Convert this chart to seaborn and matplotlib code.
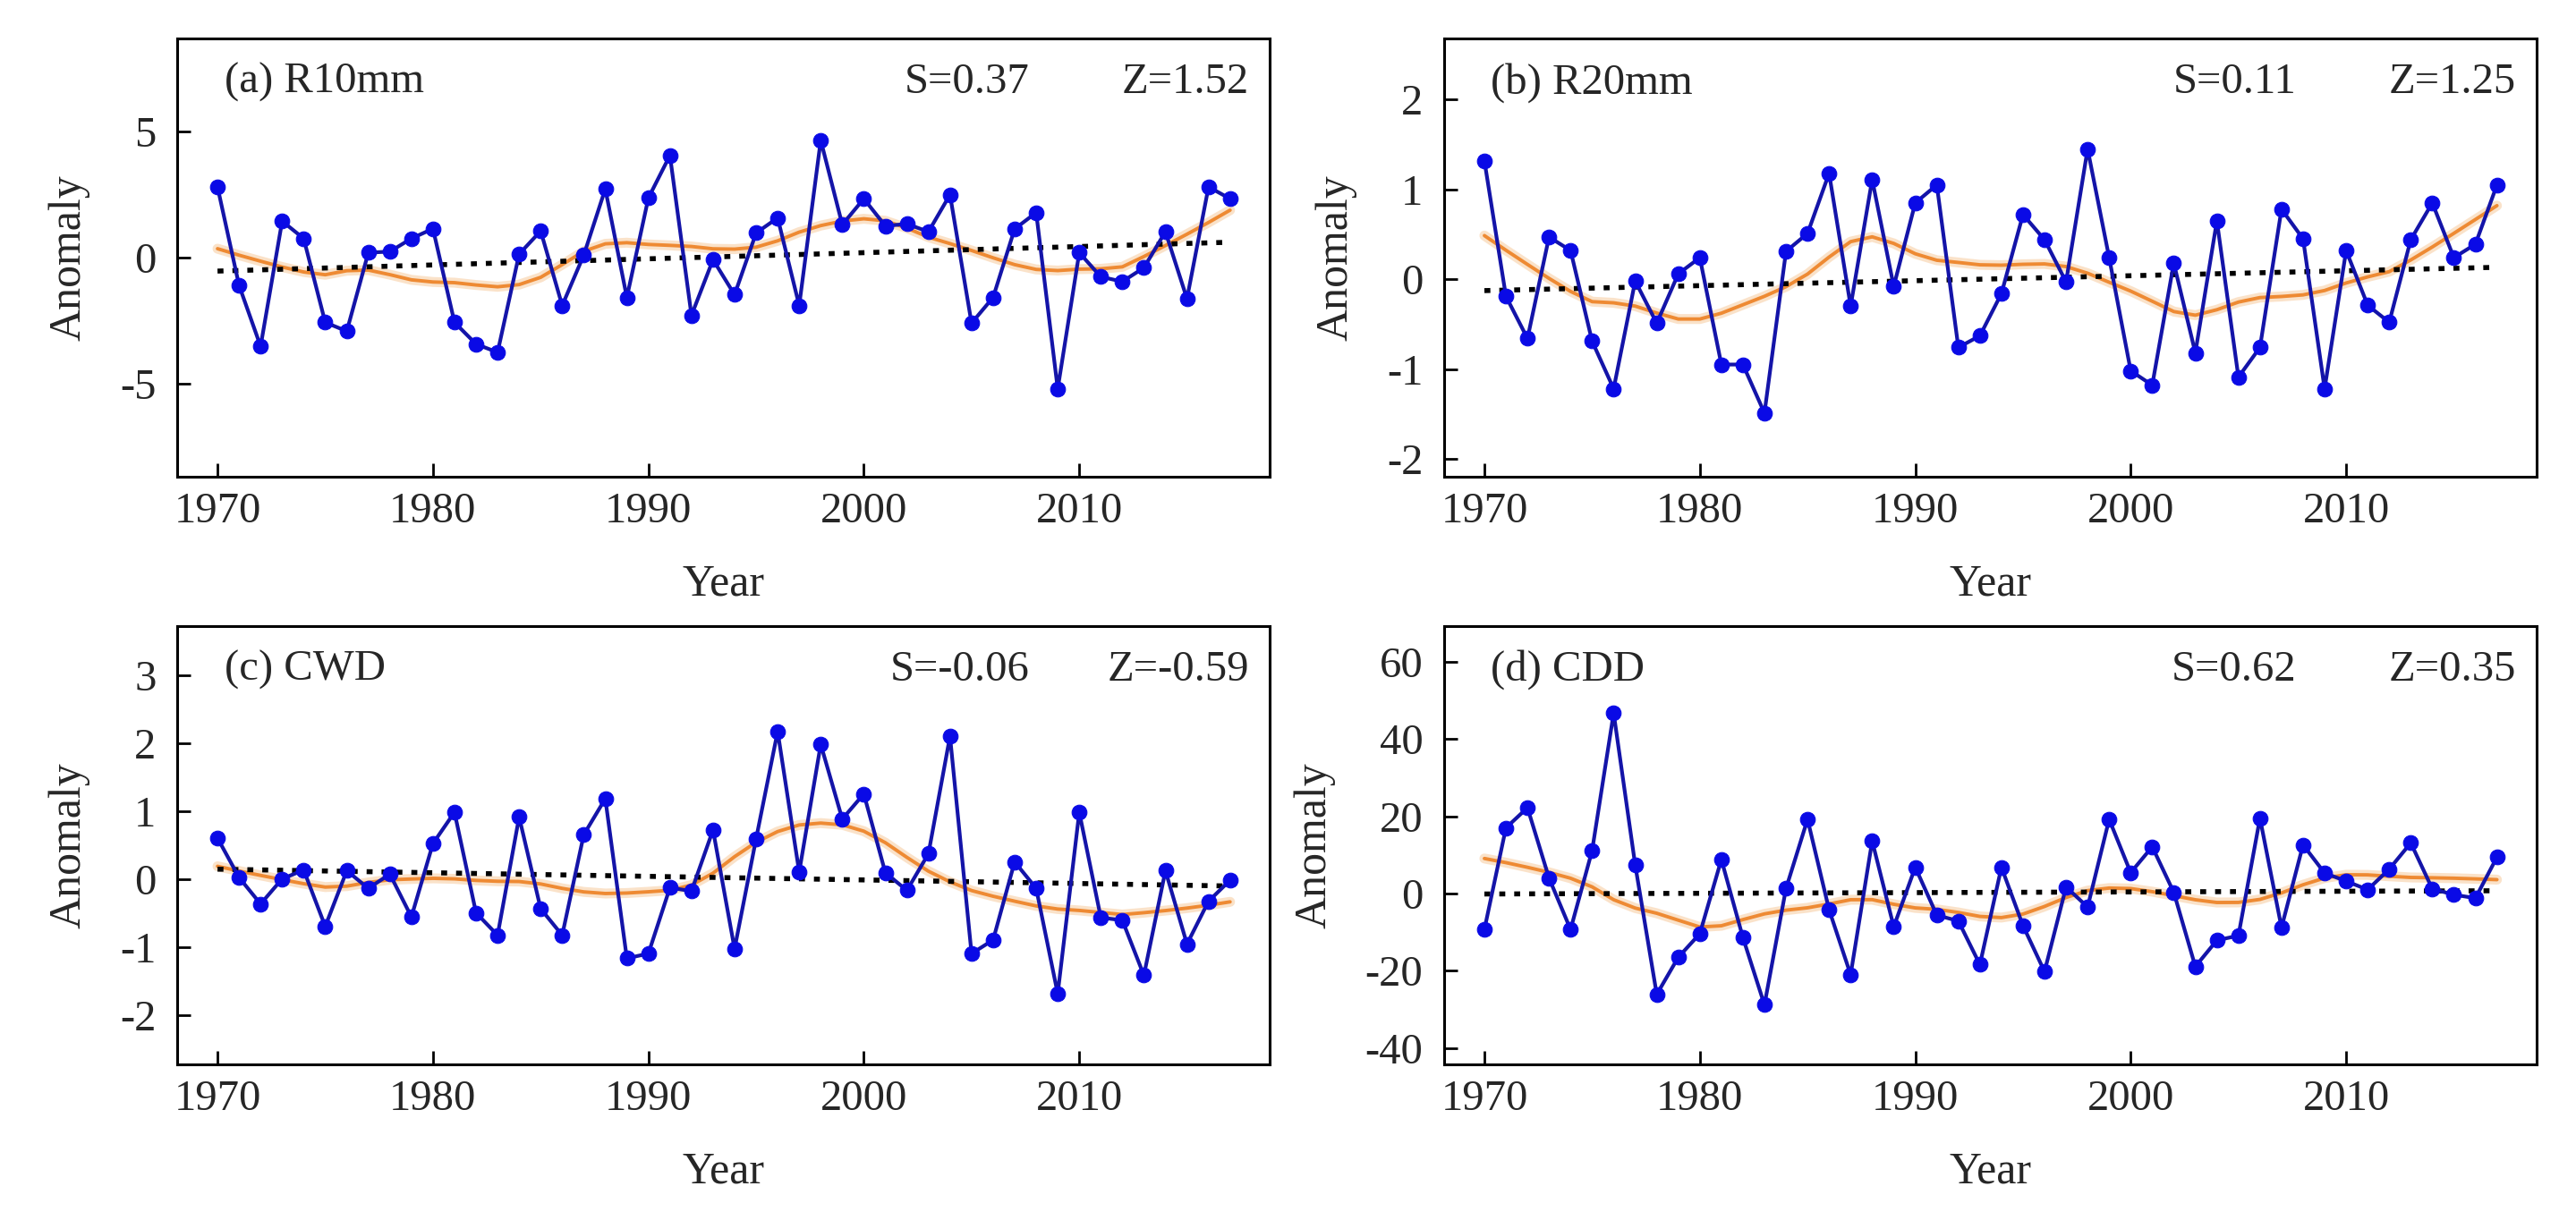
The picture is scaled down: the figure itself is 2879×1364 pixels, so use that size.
import numpy as np
import pandas as pd
import matplotlib
matplotlib.use('Agg')
import matplotlib.pyplot as plt
import seaborn as sns

years = list(range(1970, 2018))

r10mm = [2.81, -1.1, -3.52, 1.45, 0.76, -2.57, -2.92, 0.2, 0.24, 0.76,
         1.15, -2.57, -3.43, -3.76, 0.14, 1.06, -1.9, 0.1, 2.73, -1.58,
         2.37, 4.06, -2.29, -0.08, -1.47, 0.98, 1.58, -1.9, 4.66, 1.31,
         2.34, 1.26, 1.34, 1.03, 2.5, -2.6, -1.58, 1.14, 1.79, -5.21,
         0.2, -0.76, -0.95, -0.4, 1.03, -1.63, 2.81, 2.34]

r20mm = [1.32, -0.19, -0.66, 0.47, 0.32, -0.69, -1.22, -0.02, -0.49, 0.06,
         0.24, -0.95, -0.95, -1.49, 0.31, 0.51, 1.18, -0.3, 1.11, -0.08,
         0.85, 1.05, -0.76, -0.63, -0.16, 0.72, 0.44, -0.03, 1.45, 0.24,
         -1.02, -1.18, 0.18, -0.82, 0.65, -1.09, -0.76, 0.78, 0.45, -1.22,
         0.32, -0.29, -0.48, 0.44, 0.85, 0.24, 0.39, 1.05]

cwd = [0.6, 0.02, -0.37, 0.0, 0.13, -0.7, 0.12, -0.14, 0.07, -0.56,
       0.52, 0.98, -0.5, -0.83, 0.91, -0.44, -0.83, 0.65, 1.18, -1.17,
       -1.1, -0.13, -0.18, 0.72, -1.03, 0.59, 2.17, 0.1, 1.98, 0.88,
       1.25, 0.09, -0.17, 0.37, 2.1, -1.1, -0.9, 0.25, -0.14, -1.69,
       0.98, -0.57, -0.61, -1.42, 0.12, -0.96, -0.33, -0.02]

cdd = [-9.3, 17.0, 22.2, 4.0, -9.3, 11.1, 46.7, 7.4, -26.1, -16.5,
       -10.4, 8.8, -11.4, -28.8, 1.3, 19.2, -4.2, -21.0, 13.6, -8.6,
       6.8, -5.6, -7.1, -18.4, 6.8, -8.3, -20.2, 1.7, -3.5, 19.2,
       5.4, 12.1, 0.3, -18.9, -12.1, -10.9, 19.5, -8.8, 12.6, 5.3,
       3.2, 1.0, 6.3, 13.1, 1.2, -0.3, -1.2, 9.4]

titles = ['(a) R10mm', '(b) R20mm', '(c) CWD', '(d) CDD']
s_text = ['S=0.37', 'S=0.11', 'S=-0.06', 'S=0.62']
z_text = ['Z=1.52', 'Z=1.25', 'Z=-0.59', 'Z=0.35']
ylims = [(-8.7, 8.7), (-2.2, 2.68), (-2.73, 3.72), (-44.2, 69.2)]
yticks = [[-5, 0, 5], [-2, -1, 0, 1, 2], [-2, -1, 0, 1, 2, 3],
          [-40, -20, 0, 20, 40, 60]]
series = [r10mm, r20mm, cwd, cdd]


def lowess(x, y, frac=0.22, it=3):
    # local linear fit with tricube weights, plus robustness passes
    x = np.asarray(x, float)
    y = np.asarray(y, float)
    n = len(x)
    r = int(np.ceil(frac * n))
    rob = np.ones(n)
    for _ in range(it + 1):
        out = []
        for xi in x:
            d = np.abs(x - xi)
            h = np.sort(d)[r]
            w = (1 - np.clip(d / h, 0, 1) ** 3) ** 3 * rob
            A = np.vstack([np.ones(n), x - xi]).T
            AW = A.T * w
            beta = np.linalg.solve(AW @ A, AW @ y)
            out.append(beta[0])
        out = np.array(out)
        res = y - out
        s = np.median(np.abs(res))
        rob = (1 - np.clip(res / (6 * s), -1, 1) ** 2) ** 2
    return out


sns.set_style('ticks')
plt.rcParams['font.family'] = ['Liberation Serif', 'DejaVu Serif']
plt.rcParams['axes.linewidth'] = 2.2
plt.rcParams['axes.unicode_minus'] = False

fig = plt.figure(figsize=(28.79, 13.64), dpi=100)
positions = [[0.0688, 0.6092, 0.4241, 0.3592],
             [0.5606, 0.6092, 0.4241, 0.3592],
             [0.0688, 0.1276, 0.4241, 0.3592],
             [0.5606, 0.1276, 0.4241, 0.3592]]

for i in range(4):
    ax = fig.add_axes(positions[i])
    df = pd.DataFrame({'Year': years, 'Anomaly': series[i]})
    df['smooth'] = lowess(df['Year'], df['Anomaly'])

    # smoothed curve with a pale halo
    sns.lineplot(data=df, x='Year', y='smooth', ax=ax, color='#f8cfa6',
                 linewidth=8, alpha=0.6, zorder=2)
    sns.lineplot(data=df, x='Year', y='smooth', ax=ax, color='#ee8a33',
                 linewidth=2.8, zorder=3)
    # linear trend
    sns.regplot(data=df, x='Year', y='Anomaly', ax=ax, scatter=False, ci=None,
                line_kws={'color': 'black', 'linewidth': 4,
                          'linestyle': (0, (1.2, 1.8)), 'zorder': 4})
    # anomaly series
    sns.lineplot(data=df, x='Year', y='Anomaly', ax=ax, color='#1414a8',
                 linewidth=3, marker='o', markersize=12,
                 markerfacecolor='#0a0ae6', markeredgecolor='#0a0ae6',
                 zorder=5)

    ax.set_xlim(1968.13, 2018.84)
    ax.set_ylim(*ylims[i])
    ax.set_xticks([1970, 1980, 1990, 2000, 2010])
    ax.set_yticks(yticks[i])
    ax.tick_params(axis='both', direction='in', length=10.5, width=2,
                   labelsize=35, color='black')
    ax.tick_params(axis='x', pad=12)
    ax.tick_params(axis='y', pad=17)
    for sp in ax.spines.values():
        sp.set_visible(True)
        sp.set_linewidth(2.2)
        sp.set_color('black')
    ax.set_xlabel('Year', fontsize=36, labelpad=26)
    ax.set_ylabel('Anomaly', fontsize=36, labelpad=24)

    ax.text(0.043, 0.90, titles[i], transform=ax.transAxes, fontsize=35,
            ha='left', va='center')
    ax.text(0.78, 0.90, s_text[i], transform=ax.transAxes, fontsize=35,
            ha='right', va='center')
    ax.text(0.981, 0.90, z_text[i], transform=ax.transAxes, fontsize=35,
            ha='right', va='center')

fig.savefig('out.png', dpi=100, facecolor='white')
